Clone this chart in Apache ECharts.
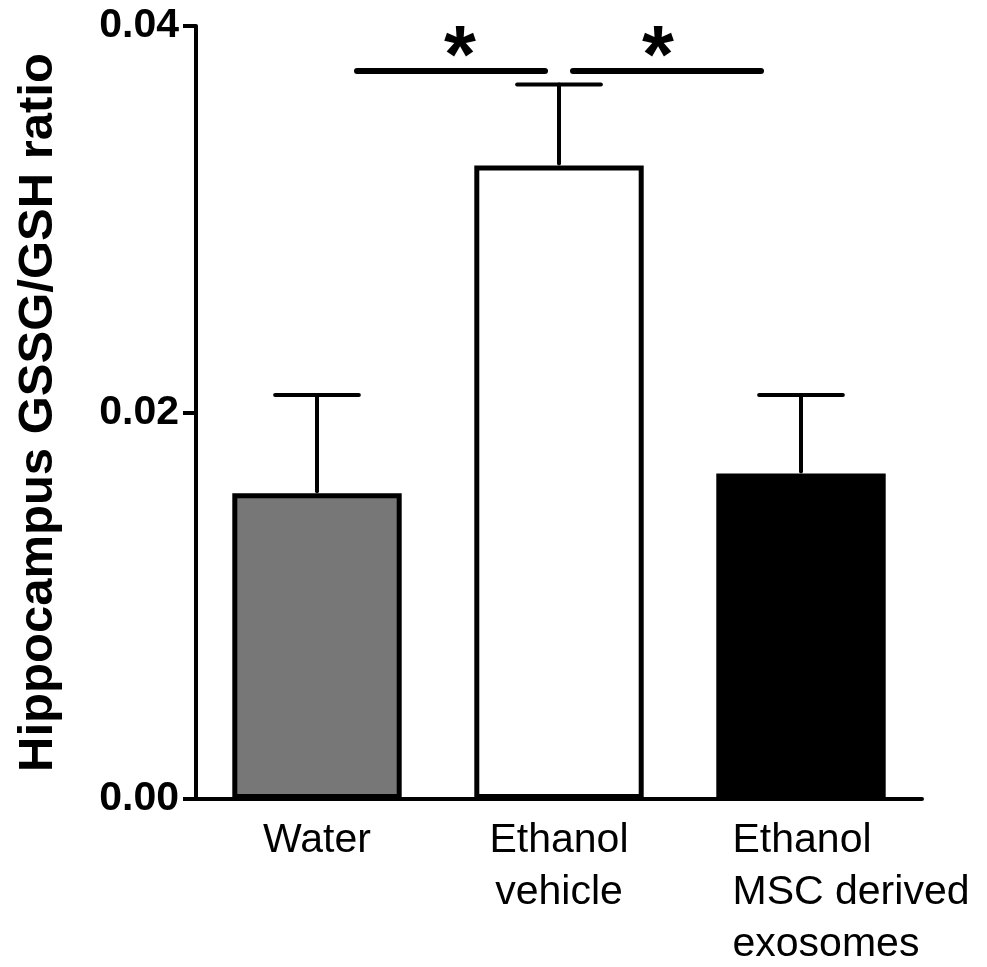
<!DOCTYPE html>
<html>
<head>
<meta charset="utf-8">
<script src="https://cdn.jsdelivr.net/npm/echarts@6/dist/echarts.min.js"></script>
<style>html,body{margin:0;padding:0;background:#fff}#c{width:987px;height:967px}</style>
</head>
<body>
<div id="c"></div>
<script>
// ---- data ----
const categories = ['Water', 'Ethanol\nvehicle', 'Ethanol\nMSC derived\nexosomes'];
const means = [0.01582, 0.03278, 0.01684];
const upperErr = [0.02091, 0.03697, 0.02091];
const barColors = ['#777777', '#ffffff', '#000000'];
const yTicks = [0, 0.02, 0.04];
const yTitle = 'Hippocampus GSSG/GSH ratio';
// significance brackets: [outer category, inner category, y value, label]
const sigs = [[0, 1, 0.03767, '*'], [2, 1, 0.03767, '*']];

const FONT = '"Liberation Sans", Arial, Helvetica, sans-serif';

const chart = echarts.init(document.getElementById('c'));

const xData = categories.map((c, i) => {
  if (i === 2) {
    return {
      value: c,
      textStyle: {
        padding: [0, 0, 0, 100],
        rich: { l: { align: 'left', fontSize: 41, lineHeight: 52, fontFamily: FONT, color: '#000' } }
      }
    };
  }
  return c;
});

chart.setOption({
  animation: false,
  backgroundColor: '#fff',
  grid: { left: 196, right: 65, top: 26, bottom: 168, outerBoundsMode: 'none', containLabel: false },
  xAxis: {
    type: 'category',
    data: xData,
    axisLine: { lineStyle: { color: '#000', width: 4 } },
    axisTick: { show: false },
    axisLabel: {
      color: '#000', fontSize: 41, lineHeight: 52, fontFamily: FONT, margin: 16, interval: 0,
      formatter: (v, i) => i === 2 ? v.split('\n').map(s => '{l|' + s + '}').join('\n') : v
    }
  },
  yAxis: {
    type: 'value',
    min: yTicks[0], max: yTicks[yTicks.length - 1], interval: yTicks[1] - yTicks[0],
    name: yTitle,
    nameLocation: 'middle',
    nameRotate: 90,
    nameGap: 133,
    nameTextStyle: { color: '#000', fontSize: 49, fontWeight: 'bold', fontFamily: FONT },
    axisLine: { show: true, lineStyle: { color: '#000', width: 4 } },
    axisTick: { show: true, length: 13, lineStyle: { color: '#000', width: 4 } },
    splitLine: { show: false },
    axisLabel: {
      color: '#000', fontSize: 41, fontWeight: 'bold', fontFamily: FONT, margin: 17,
      formatter: v => v.toFixed(2)
    }
  },
  series: [
    {
      type: 'bar',
      barWidth: '70%',
      z: 2,
      data: means.map((m, i) => ({
        value: m,
        itemStyle: { color: barColors[i], borderColor: '#000', borderWidth: 5 }
      }))
    },
    {
      type: 'custom',
      z: 3,
      data: means.map((m, i) => [i, m, upperErr[i]]),
      renderItem: (params, api) => {
        const i = api.value(0);
        const p0 = api.coord([i, api.value(1)]);
        const p1 = api.coord([i, api.value(2)]);
        const half = api.size([1, 0])[0] * 0.173;
        const style = { stroke: '#000', lineWidth: 4, lineCap: 'round' };
        return {
          type: 'group',
          children: [
            { type: 'line', shape: { x1: p0[0], y1: p0[1] - 2, x2: p1[0], y2: p1[1] }, style },
            { type: 'line', shape: { x1: p1[0] - half, y1: p1[1], x2: p1[0] + half, y2: p1[1] }, style }
          ]
        };
      }
    },
    {
      type: 'custom',
      z: 4,
      data: sigs,
      renderItem: (params, api) => {
        const a = api.value(0), b = api.value(1);
        const s = b > a ? 1 : -1;
        const pa = api.coord([a, api.value(2)]);
        const pb = api.coord([b, api.value(2)]);
        const x1 = pa[0] + s * 40, x2 = pb[0] - s * 14;
        const xs = pb[0] - s * 99;
        return {
          type: 'group',
          children: [
            { type: 'line', shape: { x1, y1: pa[1], x2, y2: pa[1] },
              style: { stroke: '#000', lineWidth: 6, lineCap: 'round' } },
            { type: 'text', x: xs, y: pa[1] - 12,
              style: { text: sigs[params.dataIndex][3], fill: '#000', fontSize: 82, fontWeight: 'bold',
                       fontFamily: FONT, align: 'center', verticalAlign: 'middle' } }
          ]
        };
      }
    }
  ]
});
</script>
</body>
</html>
